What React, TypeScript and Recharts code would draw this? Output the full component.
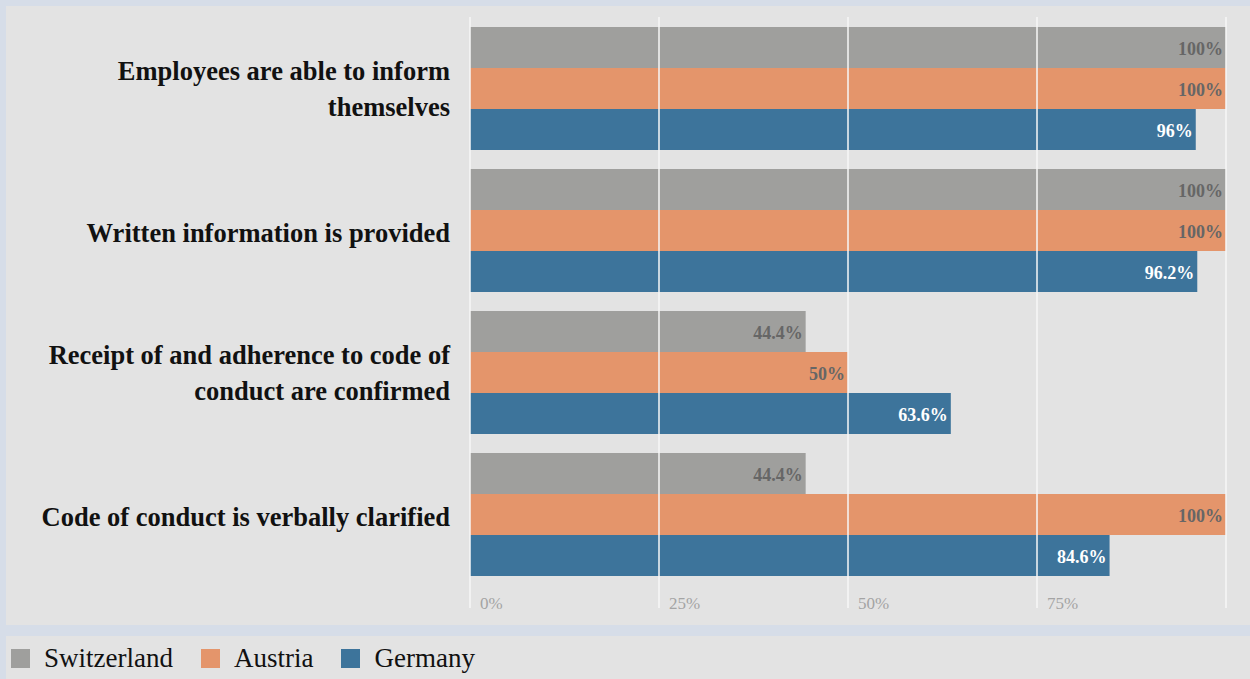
import { BarChart, Bar, XAxis, YAxis, ReferenceLine, LabelList } from 'recharts'

const CATEGORIES = [
  'Employees are able to inform\nthemselves',
  'Written information is provided',
  'Receipt of and adherence to code of\nconduct are confirmed',
  'Code of conduct is verbally clarified',
]
const SWITZERLAND = [100, 100, 44.4, 44.4]
const AUSTRIA     = [100, 100, 50, 100]
const GERMANY     = [96, 96.2, 63.6, 84.6]
const X_TICKS     = [0, 25, 50, 75, 100]

const SERIES = [
  { key: 'Switzerland', color: '#9f9f9d', label: '#666666' },
  { key: 'Austria',     color: '#e4956b', label: '#666666' },
  { key: 'Germany',     color: '#3d749b', label: '#ffffff' },
]

const FONT = '"Liberation Serif", "Times New Roman", serif'

const data = CATEGORIES.map((name, i) => ({
  name,
  Switzerland: SWITZERLAND[i],
  Austria: AUSTRIA[i],
  Germany: GERMANY[i],
}))

function CategoryTick({ x, y, payload }: any) {
  const lines = String(payload.value).split('\n')
  const gap = 36
  const start = lines.length > 1 ? y + 10 - gap / 2 : y + 12
  return (
    <text x={x} textAnchor="end" fontFamily={FONT} fontSize={26.5} fontWeight="bold" fill="#111">
      {lines.map((l, i) => <tspan key={i} x={x} y={start + i * gap}>{l}</tspan>)}
    </text>
  )
}

function PercentTick({ x, y, payload }: any) {
  return (
    <g>
      <line x1={x} x2={x} y1={y} y2={y + 23} stroke="#f7f7f7" strokeWidth={1.5} />
      {payload.value < 100 && (
        <text x={x + 10} y={y + 24} fontFamily={FONT} fontSize={17} fill="#a4a4a4">{payload.value}%</text>
      )}
    </g>
  )
}

export default function App() {
  return (
    <div style={{ position: 'absolute', left: 0, top: 0, width: 1250, height: 679, background: '#d6dde8', overflow: 'hidden' }}>
      <div style={{ position: 'absolute', left: 6, top: 6, width: 1244, height: 619, background: '#e3e3e3' }} />
      <div style={{ position: 'absolute', left: 6, top: 636, width: 1244, height: 43, background: '#e3e3e3' }} />
      <div style={{ position: 'absolute', left: 0, top: 0 }}>
        <BarChart
          layout="vertical"
          width={1250}
          height={625}
          data={data}
          margin={{ top: 17, right: 24, bottom: 0, left: 0 }}
          barCategoryGap={10}
          barGap={0}
        >
          <XAxis type="number" domain={[0, 100]} ticks={X_TICKS} height={40} axisLine={false} tickLine={false} tickSize={0} tickMargin={0} tick={<PercentTick />} interval={0} />
          <YAxis type="category" dataKey="name" width={470} axisLine={false} tickLine={false} tickSize={0} tickMargin={20} tick={<CategoryTick />} interval={0} />
          {SERIES.map(s => (
            <Bar key={s.key} dataKey={s.key} fill={s.color} isAnimationActive={false}>
              <LabelList dataKey={s.key} position="insideRight" offset={3} formatter={(v: any) => `${v}%`}
                fill={s.label} fontSize={18} fontWeight="bold" fontFamily={FONT} dy={1} />
            </Bar>
          ))}
          {X_TICKS.map(t => <ReferenceLine key={t} x={t} stroke="#f7f7f7" strokeWidth={1.5} />)}
        </BarChart>
      </div>
      <div style={{ position: 'absolute', left: 11, top: 643, display: 'flex', alignItems: 'center', fontFamily: FONT, fontSize: 27, color: '#111' }}>
        {SERIES.map(s => (
          <div key={s.key} style={{ display: 'flex', alignItems: 'center', marginRight: 28 }}>
            <span style={{ width: 19, height: 19, background: s.color, display: 'inline-block', marginRight: 14 }} />
            <span>{s.key}</span>
          </div>
        ))}
      </div>
    </div>
  )
}
